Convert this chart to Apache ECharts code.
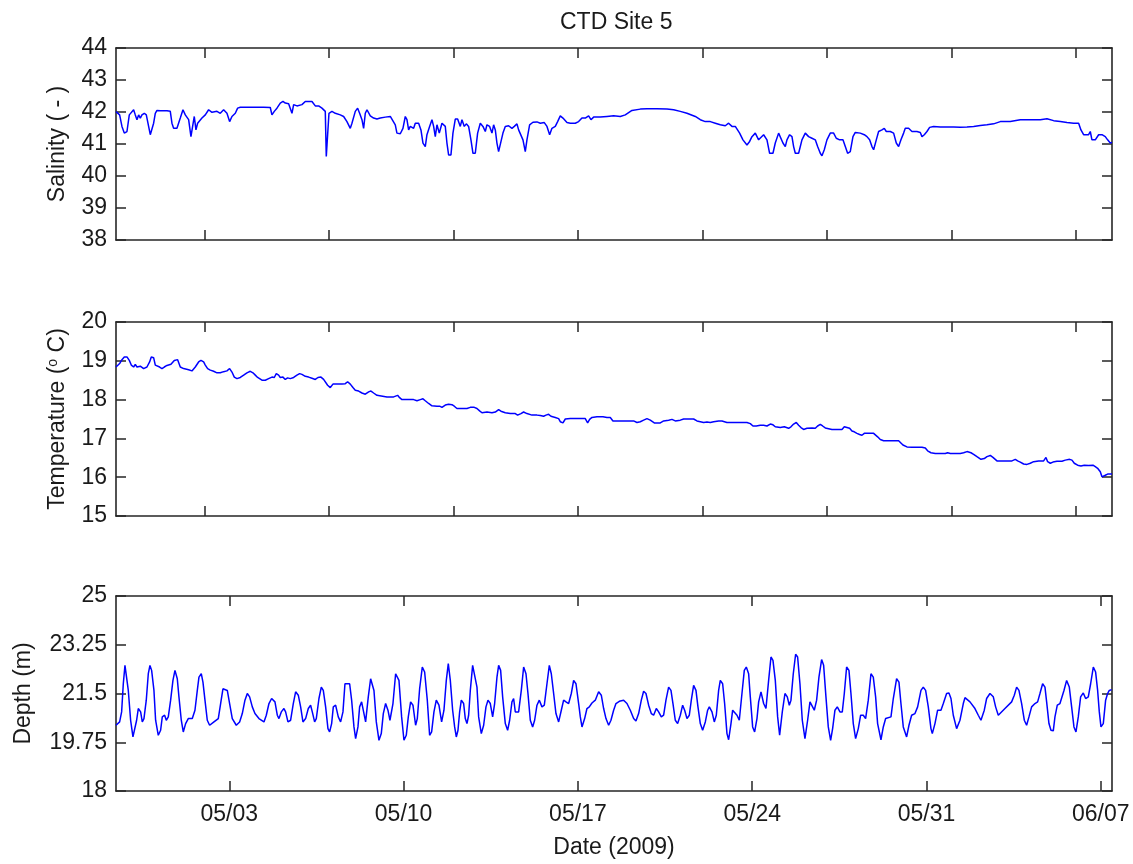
<!DOCTYPE html>
<html>
<head>
<meta charset="utf-8">
<script src="https://cdn.jsdelivr.net/npm/echarts@6/dist/echarts.min.js"></script>
<style>
html,body{margin:0;padding:0;background:#fff;}
#chart{width:1133px;height:864px;}
</style>
</head>
<body>
<div id="chart"></div>
<script>
// x values: days since 2009-04-28 00:00
const xStartDay = 0.45;
const xEndDay = 40.45;
const bottomTickDays = [5, 12, 19, 26, 33, 40];
const bottomTickLabels = ['05/03', '05/10', '05/17', '05/24', '05/31', '06/07'];
const upperTickDays = [4, 9, 14, 19, 24, 29, 34, 39];

const salinityTicks = [38, 39, 40, 41, 42, 43, 44];
const temperatureTicks = [15, 16, 17, 18, 19, 20];
const depthTicks = [18, 19.75, 21.5, 23.25, 25];

const salinitySeries = [[0.45,42.01],[0.596,41.91],[0.689,41.55],[0.783,41.34],[0.89,41.39],[0.984,41.91],[1.064,41.96],[1.158,42.07],[1.225,41.91],[1.292,41.76],[1.359,41.91],[1.426,41.81],[1.492,41.91],[1.586,41.96],[1.667,41.91],[1.76,41.55],[1.827,41.29],[1.894,41.34],[1.961,41.65],[2.028,41.96],[2.095,42.05],[2.229,42.04],[2.497,42.04],[2.63,42.02],[2.697,41.65],[2.764,41.49],[2.898,41.49],[3.032,41.81],[3.139,42.07],[3.233,41.91],[3.367,41.76],[3.46,41.23],[3.527,41.55],[3.594,41.86],[3.661,41.44],[3.728,41.65],[3.808,41.6],[3.902,41.81],[4.036,41.91],[4.17,42.07],[4.304,41.99],[4.505,42.02],[4.638,41.96],[4.772,42.07],[4.906,41.96],[5.013,41.7],[5.107,41.86],[5.241,41.96],[5.335,42.12],[5.442,42.15],[5.977,42.15],[6.379,42.15],[6.646,42.14],[6.713,41.91],[6.807,42.02],[6.914,42.12],[7.048,42.28],[7.155,42.33],[7.249,42.28],[7.383,42.26],[7.517,41.96],[7.584,42.23],[7.717,42.19],[7.918,42.23],[8.052,42.33],[8.32,42.33],[8.454,42.19],[8.588,42.19],[8.721,42.12],[8.855,42.02],[8.895,40.61],[8.949,40.61],[9.003,41.96],[9.123,42.02],[9.257,41.96],[9.458,41.91],[9.592,41.86],[9.725,41.7],[9.859,41.49],[9.926,41.65],[10.06,42.02],[10.154,42.12],[10.234,41.96],[10.328,41.76],[10.395,41.49],[10.462,41.96],[10.529,42.07],[10.663,41.88],[10.796,41.81],[10.93,41.78],
[11.064,41.81],[11.265,41.84],[11.466,41.86],[11.666,41.6],[11.733,41.34],[11.867,41.32],[11.974,41.49],[12.068,41.86],[12.135,41.76],[12.202,41.44],[12.269,41.55],[12.403,41.49],[12.47,41.65],[12.604,41.65],[12.697,41.44],[12.778,41.03],[12.871,40.92],[12.938,41.29],[13.045,41.55],[13.139,41.76],[13.206,41.55],[13.273,41.23],[13.34,41.6],[13.433,41.34],[13.541,41.65],[13.674,41.55],[13.741,41.03],[13.808,40.66],[13.902,40.66],[13.982,41.34],[14.076,41.78],[14.17,41.78],[14.277,41.55],[14.344,41.76],[14.438,41.55],[14.518,41.63],[14.611,41.55],[14.705,41.13],[14.786,40.71],[14.879,40.71],[14.973,41.34],[15.08,41.65],[15.187,41.55],[15.281,41.39],[15.348,41.6],[15.455,41.55],[15.549,41.34],[15.616,41.6],[15.683,41.44],[15.749,41.03],[15.816,40.76],[15.883,40.82],[15.99,41.34],[16.084,41.55],[16.218,41.57],[16.352,41.49],[16.446,41.55],[16.553,41.63],[16.62,41.44],[16.687,41.49],[16.794,41.13],[16.887,40.76],[16.954,41.13],[17.061,41.6],[17.195,41.68],[17.356,41.69],[17.49,41.65],[17.65,41.67],[17.758,41.55],[17.865,41.29],[17.958,41.49],[18.092,41.55],[18.186,41.7],[18.293,41.88],[18.4,41.81],[18.561,41.67],[18.695,41.65],[18.895,41.65],[19.029,41.7],[19.163,41.81],[19.297,41.81],[19.431,41.88],[19.525,41.76],[19.632,41.84],[19.899,41.84],[20.167,41.86],[20.435,41.88],[20.703,41.86],[20.903,41.91],[21.171,42.05],[21.506,42.09],[21.774,42.1],[22.175,42.1],[22.577,42.09],[22.845,42.07],[23.112,42.02],[23.38,41.96],[23.715,41.86],[23.916,41.76],[24.116,41.7],[24.317,41.7],[24.518,41.65],[24.719,41.6],[24.919,41.57],[25.053,41.65],[25.187,41.55],[25.321,41.55],[25.388,41.57],[25.495,41.34],[25.629,41.13],[25.79,40.97],[25.897,41.08],[25.991,41.23],[26.124,41.34],[26.258,41.13],
[26.325,41.13],[26.459,41.29],[26.593,41.13],[26.7,40.71],[26.834,40.71],[26.927,41.03],[27.061,41.34],[27.128,41.34],[27.235,41.03],[27.329,40.92],[27.396,41.13],[27.503,41.29],[27.597,41.23],[27.664,40.92],[27.731,40.71],[27.865,40.71],[27.998,41.13],[28.132,41.34],[28.266,41.23],[28.4,41.18],[28.534,41.13],[28.628,40.92],[28.735,40.71],[28.802,40.63],[28.895,40.82],[29.002,41.13],[29.136,41.34],[29.27,41.34],[29.377,41.18],[29.511,41.13],[29.645,41.13],[29.739,40.92],[29.832,40.71],[29.939,40.76],[30.047,41.23],[30.14,41.36],[30.341,41.34],[30.502,41.29],[30.609,41.23],[30.716,41.13],[30.81,40.92],[30.877,40.82],[30.984,41.13],[31.077,41.39],[31.211,41.44],[31.305,41.49],[31.385,41.39],[31.546,41.39],[31.68,41.34],[31.787,41.03],[31.881,40.92],[31.974,41.13],[32.081,41.34],[32.148,41.49],[32.282,41.49],[32.416,41.39],[32.617,41.39],[32.751,41.36],[32.818,41.23],[32.911,41.29],[33.019,41.39],[33.126,41.52],[33.286,41.55],[33.554,41.53],[33.822,41.53],[34.089,41.53],[34.357,41.52],[34.625,41.53],[34.893,41.55],[35.16,41.58],[35.428,41.6],[35.696,41.63],[35.964,41.7],[36.365,41.7],[36.767,41.76],[37.168,41.76],[37.57,41.76],[37.838,41.79],[38.106,41.73],[38.373,41.7],[38.641,41.67],[38.909,41.65],[39.11,41.65],[39.203,41.44],[39.31,41.29],[39.511,41.29],[39.578,41.39],[39.645,41.13],[39.779,41.13],[39.913,41.29],[40.047,41.29],[40.18,41.23],[40.274,41.13],[40.381,41.03],[40.45,41.05]];

const temperatureSeries = [[0.45,18.84],[0.596,18.93],[0.689,19.03],[0.783,19.1],[0.89,19.1],[0.984,19.01],[1.064,18.89],[1.158,18.84],[1.225,18.91],[1.292,18.84],[1.359,18.89],[1.426,18.86],[1.559,18.8],[1.693,18.84],[1.8,18.97],[1.867,19.1],[1.961,19.08],[2.028,18.89],[2.095,18.84],[2.202,18.84],[2.296,18.8],[2.389,18.84],[2.497,18.88],[2.657,18.91],[2.791,19.01],[2.925,19.03],[3.032,18.84],[3.166,18.8],[3.367,18.77],[3.5,18.74],[3.634,18.84],[3.768,18.97],[3.862,19.01],[3.969,18.97],[4.036,18.89],[4.13,18.8],[4.237,18.76],[4.371,18.73],[4.505,18.69],[4.638,18.69],[4.772,18.72],[4.906,18.74],[5.013,18.8],[5.107,18.71],[5.201,18.58],[5.308,18.54],[5.442,18.57],[5.576,18.63],[5.709,18.69],[5.843,18.73],[5.95,18.69],[6.044,18.63],[6.138,18.57],[6.312,18.5],[6.445,18.5],[6.579,18.54],[6.713,18.58],[6.807,18.57],[6.887,18.67],[6.981,18.63],[7.048,18.57],[7.155,18.58],[7.249,18.52],[7.342,18.56],[7.45,18.54],[7.584,18.57],[7.717,18.63],[7.824,18.67],[7.918,18.65],[8.052,18.6],[8.186,18.58],[8.32,18.55],[8.454,18.52],[8.561,18.57],[8.681,18.58],[8.788,18.52],[8.855,18.54],[8.949,18.37],[9.056,18.31],[9.163,18.4],[9.324,18.4],[9.525,18.4],[9.658,18.41],[9.752,18.46],[9.859,18.4],[9.966,18.31],[10.06,18.24],[10.194,18.22],[10.328,18.17],[10.462,18.14],[10.596,18.2],[10.69,18.22],[10.796,18.17],[10.93,18.11],[10.997,18.07],
[11.332,18.07],[11.599,18.07],[11.76,18.11],[11.84,18.05],[11.934,18.0],[12.135,18.0],[12.403,18.0],[12.537,17.97],[12.67,18.0],[12.778,18.02],[12.871,17.97],[13.005,17.9],[13.139,17.84],[13.34,17.83],[13.447,17.83],[13.541,17.8],[13.674,17.86],[13.808,17.88],[13.942,17.87],[14.036,17.83],[14.143,17.77],[14.344,17.77],[14.545,17.77],[14.678,17.8],[14.839,17.8],[14.946,17.77],[15.053,17.71],[15.147,17.66],[15.348,17.68],[15.549,17.66],[15.683,17.68],[15.816,17.74],[15.91,17.7],[15.99,17.73],[16.084,17.66],[16.285,17.64],[16.486,17.64],[16.579,17.6],[16.713,17.64],[16.82,17.68],[16.954,17.64],[17.155,17.6],[17.356,17.6],[17.49,17.59],[17.624,17.57],[17.717,17.6],[17.824,17.62],[17.918,17.57],[18.092,17.54],[18.226,17.51],[18.293,17.43],[18.4,17.4],[18.494,17.5],[18.695,17.51],[18.962,17.51],[19.163,17.51],[19.297,17.51],[19.391,17.4],[19.471,17.49],[19.565,17.54],[19.766,17.56],[20.007,17.56],[20.167,17.54],[20.301,17.54],[20.408,17.45],[20.703,17.45],[20.97,17.45],[21.238,17.45],[21.372,17.41],[21.506,17.43],[21.64,17.47],[21.774,17.51],[21.907,17.47],[22.068,17.4],[22.309,17.4],[22.443,17.45],[22.644,17.47],[22.778,17.49],[22.911,17.45],[23.112,17.47],[23.246,17.5],[23.447,17.5],[23.648,17.5],[23.782,17.45],[23.916,17.43],[24.049,17.41],[24.183,17.42],[24.317,17.41],[24.451,17.43],[24.652,17.45],[24.786,17.45],[24.986,17.41],[25.254,17.41],[25.522,17.41],[25.79,17.41],[25.924,17.38],[26.031,17.32],[26.164,17.32],
[26.325,17.34],[26.459,17.34],[26.593,17.32],[26.727,17.37],[26.834,17.35],[26.927,17.3],[27.128,17.28],[27.289,17.3],[27.369,17.32],[27.463,17.26],[27.557,17.3],[27.664,17.37],[27.771,17.41],[27.865,17.34],[27.958,17.28],[28.065,17.23],[28.199,17.26],[28.4,17.27],[28.534,17.26],[28.628,17.32],[28.735,17.36],[28.828,17.32],[28.935,17.27],[29.069,17.25],[29.203,17.23],[29.404,17.23],[29.605,17.23],[29.699,17.3],[29.806,17.28],[29.913,17.26],[30.006,17.19],[30.1,17.17],[30.207,17.13],[30.314,17.1],[30.408,17.08],[30.502,17.13],[30.676,17.13],[30.877,17.13],[30.944,17.1],[31.037,17.04],[31.144,16.97],[31.278,16.94],[31.479,16.94],[31.68,16.94],[31.881,16.94],[31.948,16.9],[32.055,16.83],[32.215,16.78],[32.416,16.77],[32.617,16.77],[32.818,16.77],[32.952,16.75],[33.045,16.68],[33.179,16.63],[33.353,16.61],[33.554,16.61],[33.755,16.61],[33.848,16.63],[33.956,16.61],[34.156,16.61],[34.357,16.61],[34.491,16.63],[34.625,16.66],[34.786,16.63],[34.893,16.59],[35.027,16.53],[35.187,16.46],[35.321,16.48],[35.428,16.53],[35.562,16.56],[35.669,16.51],[35.83,16.42],[36.031,16.42],[36.231,16.42],[36.432,16.42],[36.566,16.46],[36.66,16.42],[36.767,16.39],[36.901,16.34],[37.035,16.33],[37.168,16.36],[37.302,16.4],[37.503,16.42],[37.704,16.42],[37.798,16.51],[37.865,16.4],[37.972,16.36],[38.079,16.39],[38.239,16.41],[38.44,16.41],[38.574,16.44],[38.748,16.46],[38.842,16.44],[38.936,16.36],[39.069,16.31],[39.203,16.29],[39.337,16.31],[39.511,16.3],[39.685,16.31],[39.779,16.27],[39.873,16.23],[39.98,16.14],[40.047,16.01],[40.114,15.97],[40.18,16.05],[40.274,16.08],[40.448,16.08]];

const depthSeries = [[0.45,20.36],[0.596,20.48],[0.676,20.84],[0.743,21.85],[0.81,22.51],[0.863,22.45],[0.944,21.61],[1.037,20.54],[1.131,19.94],[1.211,19.94],[1.278,20.54],[1.345,20.96],[1.439,20.84],[1.506,20.48],[1.573,20.6],[1.666,21.26],[1.747,22.21],[1.814,22.51],[1.881,22.33],[1.974,21.61],[2.041,20.54],[2.148,20.0],[2.242,20.18],[2.309,20.66],[2.403,20.72],[2.47,20.54],[2.55,20.66],[2.644,21.26],[2.737,21.97],[2.818,22.33],[2.911,22.03],[2.978,21.38],[3.072,20.54],[3.152,20.12],[3.246,20.42],[3.353,20.6],[3.514,20.6],[3.621,20.9],[3.715,21.61],[3.782,22.09],[3.875,22.21],[3.942,21.91],[4.023,21.26],[4.116,20.54],[4.21,20.36],[4.384,20.48],[4.558,20.6],[4.652,21.14],[4.745,21.67],[4.812,21.73],[4.92,21.61],[5.013,21.14],[5.12,20.6],[5.281,20.36],[5.415,20.48],[5.522,20.78],[5.629,21.26],[5.723,21.5],[5.816,21.38],[5.924,21.02],[6.031,20.78],[6.191,20.6],[6.392,20.48],[6.486,20.72],[6.593,21.14],[6.7,21.32],[6.834,21.2],[6.928,20.72],[6.995,20.6],[7.088,20.84],[7.195,20.96],[7.262,20.84],[7.356,20.48],[7.463,20.54],[7.57,21.14],[7.664,21.56],[7.771,21.44],[7.865,21.02],[7.958,20.48],[8.065,20.6],[8.173,20.96],[8.266,21.08],[8.333,20.84],[8.427,20.48],[8.494,20.6],[8.601,21.32],[8.695,21.73],[8.775,21.61],[8.869,21.02],[8.962,20.24],[9.029,20.12],[9.11,20.42],[9.177,21.02],[9.27,21.08],[9.377,20.66],[9.471,20.48],[9.565,20.84],[9.645,21.85],[9.712,21.88],[9.833,21.85],[9.913,21.26],[10.007,20.3],[10.074,19.88],[10.167,20.3],[10.234,21.02],[10.314,21.2],[10.368,20.96],[10.475,20.48],[10.582,21.38],[10.676,22.03],[10.743,22.0],[10.81,21.61],[10.904,20.48],[11.011,19.82],[11.104,20.06],[11.185,20.78],[11.278,21.14],[11.372,20.9],[11.452,20.54],[11.573,21.14],[11.68,22.21],[11.747,22.25],[11.814,21.97],[11.921,20.66],[12.015,19.82],[12.108,20.0],[12.189,20.66],[12.282,21.2],[12.376,21.08],[12.483,20.36],[12.55,20.6],[12.644,21.67],[12.751,22.45],[12.845,22.27],[12.952,21.26],[13.045,20.0],[13.126,20.12],[13.219,20.84],[13.313,21.26],[13.42,21.08],[13.527,20.48],[13.621,20.9],[13.715,21.97],[13.795,22.57],
[13.876,21.97],[13.97,20.9],[14.05,20.3],[14.117,19.94],[14.184,20.18],[14.251,20.84],[14.318,21.26],[14.411,21.14],[14.478,20.6],[14.545,20.42],[14.612,20.72],[14.679,21.61],[14.773,22.51],[14.853,22.45],[14.947,21.73],[15.014,20.66],[15.121,20.06],[15.215,20.36],[15.308,21.02],[15.389,21.26],[15.482,21.14],[15.576,20.66],[15.656,21.14],[15.75,22.09],[15.817,22.51],[15.897,22.33],[15.978,21.38],[16.085,20.42],[16.178,20.18],[16.259,20.54],[16.352,21.2],[16.419,21.32],[16.486,20.84],[16.62,20.84],[16.727,21.61],[16.821,22.45],[16.915,22.21],[16.995,21.5],[17.089,20.54],[17.182,20.3],[17.263,20.54],[17.356,21.08],[17.45,21.26],[17.557,21.02],[17.651,21.08],[17.758,21.85],[17.852,22.51],[17.932,22.21],[18.026,21.5],[18.119,20.78],[18.227,20.48],[18.334,20.9],[18.427,21.26],[18.521,21.2],[18.628,21.14],[18.735,21.5],[18.829,21.97],[18.923,21.85],[19.03,21.14],[19.097,20.66],[19.164,20.3],[19.271,20.6],[19.364,20.96],[19.458,21.02],[19.565,21.16],[19.699,21.26],[19.833,21.56],[19.94,21.44],[20.034,20.96],[20.128,20.6],[20.235,20.36],[20.328,20.54],[20.435,20.9],[20.529,21.14],[20.663,21.22],[20.837,21.26],[20.971,21.14],[21.105,20.9],[21.239,20.6],[21.332,20.51],[21.439,20.78],[21.547,21.26],[21.64,21.58],[21.734,21.5],[21.841,21.08],[21.948,20.78],[22.042,20.72],[22.149,20.96],[22.243,20.84],[22.35,20.66],[22.443,20.72],[22.537,21.26],[22.644,21.73],[22.738,21.61],[22.818,21.14],[22.912,20.54],[23.006,20.42],[23.113,20.72],[23.207,21.08],[23.287,20.9],[23.381,20.6],[23.474,20.72],[23.555,21.26],[23.648,21.79],[23.742,21.61],[23.822,21.02],[23.916,20.42],[24.01,20.18],[24.117,20.48],[24.211,20.9],[24.278,21.02],[24.385,20.84],[24.478,20.48],[24.559,20.72],[24.652,21.61],[24.719,21.97],[24.813,21.85],[24.893,21.14],[24.987,20.06],[25.054,19.84],[25.148,20.42],[25.215,20.9],[25.295,20.96],[25.389,20.72],[25.482,20.54],[25.589,21.5],[25.683,22.33],[25.763,22.45],[25.857,22.21],[25.924,21.38],[26.018,20.3],[26.098,20.12],[26.192,20.6],[26.259,21.2],[26.353,21.56],[26.46,21.14],[26.553,20.96],[26.66,21.97],[26.754,22.81],[26.834,22.69],[26.928,21.97],[27.022,20.66],[27.102,20.0],
[27.209,20.84],[27.316,21.5],[27.409,21.38],[27.49,21.08],[27.557,21.26],[27.65,22.21],[27.744,22.91],[27.824,22.81],[27.918,21.85],[28.012,20.54],[28.119,19.88],[28.226,20.54],[28.32,21.2],[28.387,21.26],[28.494,20.9],[28.588,21.26],[28.681,22.09],[28.788,22.72],[28.869,22.51],[28.962,21.38],[29.056,20.3],[29.15,19.82],[29.23,20.24],[29.324,20.9],[29.417,21.02],[29.525,20.84],[29.618,20.84],[29.699,21.5],[29.792,22.45],[29.886,22.33],[29.966,21.5],[30.06,20.42],[30.154,19.88],[30.261,20.24],[30.355,20.72],[30.462,20.72],[30.555,20.6],[30.662,21.26],[30.77,22.21],[30.863,22.09],[30.957,21.38],[31.037,20.42],[31.171,19.84],[31.265,20.3],[31.359,20.6],[31.439,20.66],[31.573,20.66],[31.667,21.32],[31.8,22.03],[31.894,21.91],[31.974,21.14],[32.068,20.3],[32.202,19.94],[32.296,20.36],[32.403,20.72],[32.537,20.78],[32.644,21.02],[32.778,21.61],[32.871,21.73],[32.965,21.61],[33.072,21.02],[33.179,20.24],[33.233,20.06],[33.34,20.42],[33.447,20.9],[33.581,20.9],[33.675,21.14],[33.808,21.5],[33.902,21.52],[33.983,21.32],[34.076,20.72],[34.21,20.24],[34.344,20.54],[34.478,21.14],[34.545,21.35],[34.746,21.2],[34.946,20.96],[35.08,20.72],[35.187,20.54],[35.321,20.9],[35.415,21.32],[35.549,21.5],[35.683,21.38],[35.776,21.02],[35.883,20.72],[36.151,20.96],[36.419,21.2],[36.526,21.44],[36.62,21.73],[36.713,21.61],[36.821,21.14],[36.928,20.54],[37.021,20.36],[37.115,20.66],[37.222,21.02],[37.356,21.14],[37.463,21.2],[37.557,21.5],[37.664,21.85],[37.758,21.73],[37.825,21.2],[37.918,20.42],[37.999,20.18],[38.092,20.16],[38.159,20.66],[38.253,21.08],[38.36,21.14],[38.427,21.08],[38.521,21.61],[38.628,21.97],[38.735,21.73],[38.829,21.02],[38.922,20.3],[39.003,20.12],[39.096,20.66],[39.19,21.38],[39.297,21.52],[39.391,21.32],[39.498,21.38],[39.592,21.85],[39.699,22.45],[39.792,22.27],[39.873,21.61],[39.94,20.84],[40.007,20.3],[40.1,20.42],[40.194,21.26],[40.274,21.5],[40.341,21.61],[40.435,21.64]];

const FONT = '"Liberation Sans", Arial, Helvetica, sans-serif';
const TEXT_COLOR = '#1a1a1a';
const AXIS_COLOR = '#262626';
const FS = 23;

const panels = [
  { data: salinitySeries, ticks: salinityTicks, name: 'Salinity ( - )', nameGap: 47, top: 48, height: 192, xticks: upperTickDays, showX: false },
  { data: temperatureSeries, ticks: temperatureTicks, name: 'Temperature ({sup|o} C)', nameGap: 47, top: 322, height: 194, xticks: upperTickDays, showX: false },
  { data: depthSeries, ticks: depthTicks, name: 'Depth (m)', nameGap: 81, top: 596, height: 195, xticks: bottomTickDays, showX: true }
];

function xLabel(v) {
  for (let i = 0; i < bottomTickDays.length; i++) {
    if (Math.abs(bottomTickDays[i] - v) < 1e-6) return bottomTickLabels[i];
  }
  return '';
}

const lineStyleAxis = { color: AXIS_COLOR, width: 1.6 };
const grids = [], xAxes = [], yAxes = [], series = [];

panels.forEach((p, i) => {
  grids.push({ left: 116, right: 21, top: p.top, height: p.height, containLabel: false });
  const xCommon = {
    gridIndex: i, type: 'value', min: xStartDay, max: xEndDay,
    axisLine: { show: true, onZero: false, lineStyle: lineStyleAxis },
    axisTick: { show: true, inside: true, length: 10, customValues: p.xticks, lineStyle: { color: AXIS_COLOR, width: 1.5 } },
    splitLine: { show: false }
  };
  xAxes.push(Object.assign({}, xCommon, {
    position: 'bottom',
    axisLabel: { show: p.showX, customValues: p.xticks, formatter: xLabel, margin: 12,
      color: TEXT_COLOR, fontFamily: FONT, fontSize: FS },
    name: p.showX ? 'Date (2009)' : '',
    nameLocation: 'middle', nameGap: 45,
    nameTextStyle: { color: TEXT_COLOR, fontFamily: FONT, fontSize: FS }
  }));
  xAxes.push(Object.assign({}, xCommon, { position: 'top', axisLabel: { show: false } }));
  const yMin = p.ticks[0], yMax = p.ticks[p.ticks.length - 1];
  const yCommon = {
    gridIndex: i, type: 'value', min: yMin, max: yMax,
    axisLine: { show: true, onZero: false, lineStyle: lineStyleAxis },
    axisTick: { show: true, inside: true, length: 10, customValues: p.ticks, lineStyle: { color: AXIS_COLOR, width: 1.5 } },
    splitLine: { show: false }
  };
  yAxes.push(Object.assign({}, yCommon, {
    position: 'left',
    axisLabel: { show: true, customValues: p.ticks, margin: 9, color: TEXT_COLOR, fontFamily: FONT, fontSize: FS },
    name: p.name, nameLocation: 'middle', nameRotate: 90, nameGap: p.nameGap,
    nameTextStyle: { color: TEXT_COLOR, fontFamily: FONT, fontSize: FS,
      rich: { sup: { fontSize: 14, fontFamily: FONT, color: TEXT_COLOR, verticalAlign: 'top' } } }
  }));
  yAxes.push(Object.assign({}, yCommon, { position: 'right', axisLabel: { show: false } }));
  series.push({
    type: 'line', xAxisIndex: 2 * i, yAxisIndex: 2 * i, data: p.data,
    showSymbol: false, symbol: 'none', clip: true,
    lineStyle: { color: '#0000ff', width: 1.5 }, animation: false
  });
});

const chart = echarts.init(document.getElementById('chart'), null, { renderer: 'canvas' });
chart.setOption({
  backgroundColor: '#ffffff',
  animation: false,
  title: { text: 'CTD Site 5', left: 555, top: 6,
    textStyle: { color: TEXT_COLOR, fontFamily: FONT, fontSize: FS, fontWeight: 'normal' } },
  grid: grids, xAxis: xAxes, yAxis: yAxes, series: series
});
</script>
</body>
</html>
